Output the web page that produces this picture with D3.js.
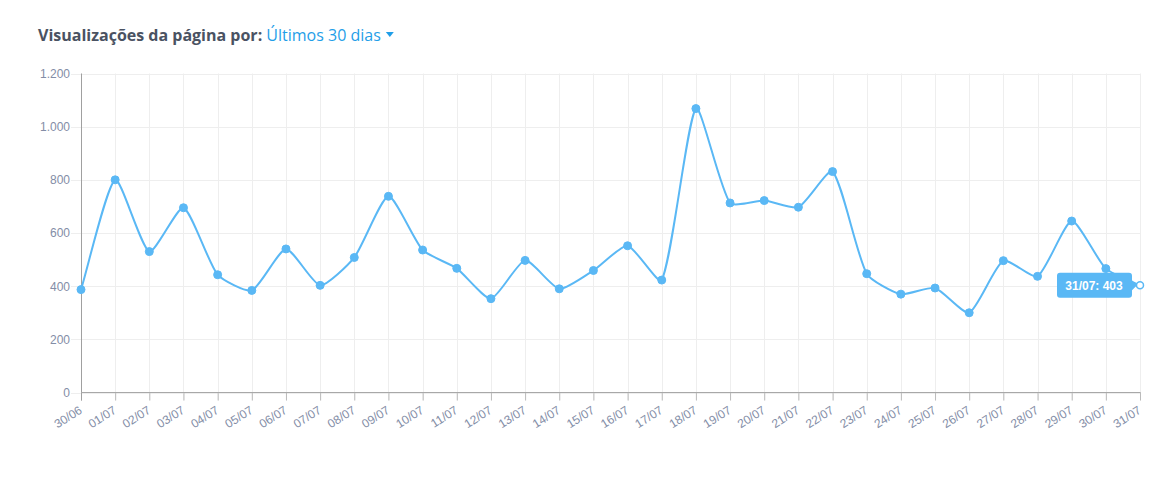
<!DOCTYPE html>
<html>
<head>
<meta charset="utf-8">
<script src="https://cdn.jsdelivr.net/npm/d3@7"></script>
<style>
  html, body { margin: 0; padding: 0; background: #fff; }
  body { width: 1174px; height: 482px; overflow: hidden; }
  svg { display: block; }
  .title { font-family: "Open Sans", sans-serif; font-size: 16px; }
  .tick text { font-family: "Liberation Sans", Arial, sans-serif; font-size: 12px; fill: #838da6; }
</style>
</head>
<body>
<svg id="chart" width="1174" height="482"></svg>
<script>
// ─── data ───
const dates = ['30/06', '01/07', '02/07', '03/07', '04/07', '05/07', '06/07', '07/07', '08/07', '09/07',
  '10/07', '11/07', '12/07', '13/07', '14/07', '15/07', '16/07', '17/07', '18/07', '19/07',
  '20/07', '21/07', '22/07', '23/07', '24/07', '25/07', '26/07', '27/07', '28/07', '29/07',
  '30/07', '31/07'];
const views = [387, 800, 530, 695, 443, 384, 540, 403, 508, 738,
  536, 467, 353, 497, 390, 459, 552, 423, 1068, 713,
  722, 697, 831, 447, 370, 393, 300, 496, 437, 645,
  466, 403];
const yTicks = [0, 200, 400, 600, 800, 1000, 1200];
const tipIndex = dates.length - 1;

const blue = '#5ab8f5';
const fmt = d3.formatLocale({ decimal: ',', thousands: '.', grouping: [3], currency: ['R$', ''] }).format(',d');

const svg = d3.select('#chart');
const m = { left: 81, right: 1140, top: 73.5, bottom: 392.5 };

// ─── title ───
const title = svg.append('text').attr('class', 'title').attr('x', 38).attr('y', 41);
title.append('tspan').attr('font-weight', 700).attr('fill', '#4a5262').text('Visualizações da página por: ');
title.append('tspan').attr('fill', '#1f9ee8').text('Últimos 30 dias');
const tb = title.node().getBBox();
svg.append('path')
  .attr('d', `M${tb.x + tb.width + 5},${32}l8,0l-4,5z`)
  .attr('fill', '#1f9ee8');

// ─── scales ───
const x = d3.scalePoint().domain(dates).range([m.left, m.right]);
const y = d3.scaleLinear().domain([0, 1200]).range([m.bottom, m.top]);

// grid
const grid = svg.append('g');
grid.selectAll('line.h').data(yTicks).enter().append('line')
  .attr('x1', m.left - 10).attr('x2', m.right)
  .attr('y1', d => Math.round(y(d)) + 0.5).attr('y2', d => Math.round(y(d)) + 0.5)
  .attr('stroke', '#eeeeee');
grid.selectAll('line.v').data(dates).enter().append('line')
  .attr('x1', d => Math.round(x(d)) + 0.5).attr('x2', d => Math.round(x(d)) + 0.5)
  .attr('y1', m.top).attr('y2', m.bottom + 8)
  .attr('stroke', '#eeeeee');

// axes
const yAxis = svg.append('g')
  .attr('transform', `translate(${m.left},0)`)
  .call(d3.axisLeft(y).tickValues(yTicks).tickFormat(fmt).tickSize(10).tickPadding(1));
yAxis.select('.domain').remove();
yAxis.selectAll('.tick line').remove();

const xAxis = svg.append('g')
  .attr('transform', `translate(0,${m.bottom})`)
  .call(d3.axisBottom(x).tickSize(8).tickPadding(0));
xAxis.select('.domain').remove();
xAxis.selectAll('.tick line').attr('stroke', '#bbbbbb');
xAxis.selectAll('.tick text')
  .attr('text-anchor', 'end')
  .attr('x', 0).attr('y', 0)
  .attr('dy', null)
  .attr('transform', 'translate(1.5,20) rotate(-32)');

svg.append('line').attr('x1', m.left + 0.5).attr('x2', m.left + 0.5)
  .attr('y1', m.top).attr('y2', m.bottom + 8).attr('stroke', '#a0a0a0');
svg.append('line').attr('x1', m.left).attr('x2', m.right + 0.5)
  .attr('y1', m.bottom).attr('y2', m.bottom).attr('stroke', '#a8a8a8');

// ─── line (light spline) ───
const pts = views.map((v, i) => [x(dates[i]), y(v)]);
function ctrl(p0, p1, p2, t) {
  const d01 = Math.hypot(p1[0] - p0[0], p1[1] - p0[1]);
  const d12 = Math.hypot(p2[0] - p1[0], p2[1] - p1[1]);
  let fa = d01 / (d01 + d12) || 0, fb = d12 / (d01 + d12) || 0;
  fa *= t; fb *= t;
  return {
    prev: [p1[0] - fa * (p2[0] - p0[0]), p1[1] - fa * (p2[1] - p0[1])],
    next: [p1[0] + fb * (p2[0] - p0[0]), p1[1] + fb * (p2[1] - p0[1])]
  };
}
const cps = pts.map((p, i) => ctrl(pts[Math.max(0, i - 1)], p, pts[Math.min(pts.length - 1, i + 1)], 0.2));
const path = d3.path();
path.moveTo(pts[0][0], pts[0][1]);
for (let i = 1; i < pts.length; i++) {
  const a = cps[i - 1].next, b = cps[i].prev;
  path.bezierCurveTo(a[0], a[1], b[0], b[1], pts[i][0], pts[i][1]);
}
svg.append('path').attr('d', path.toString())
  .attr('fill', 'none').attr('stroke', blue).attr('stroke-width', 2);

svg.selectAll('circle.pt').data(views).enter().append('circle')
  .attr('cx', (d, i) => x(dates[i])).attr('cy', d => y(d))
  .attr('r', (d, i) => i === tipIndex ? 3.5 : 4)
  .attr('fill', (d, i) => i === tipIndex ? '#fff' : blue)
  .attr('stroke', blue).attr('stroke-width', (d, i) => i === tipIndex ? 1.5 : 1);

// ─── tooltip ───
const tx = x(dates[tipIndex]), ty = y(views[tipIndex]);
const tip = svg.append('g').attr('transform', `translate(${tx - 7},${ty})`);
tip.append('path')
  .attr('d', 'M-76,-9.5a3,3 0 0 1 3,-3h69a3,3 0 0 1 3,3v4.5l5,5l-5,5v4.5a3,3 0 0 1 -3,3h-69a3,3 0 0 1 -3,-3z')
  .attr('fill', blue);
tip.append('text').attr('x', -39).attr('y', 4.5)
  .attr('text-anchor', 'middle')
  .attr('font-family', '"Liberation Sans", Arial, sans-serif')
  .attr('font-size', 12).attr('font-weight', 700).attr('fill', '#fff')
  .text(`${dates[tipIndex]}: ${views[tipIndex]}`);
</script>
</body>
</html>
